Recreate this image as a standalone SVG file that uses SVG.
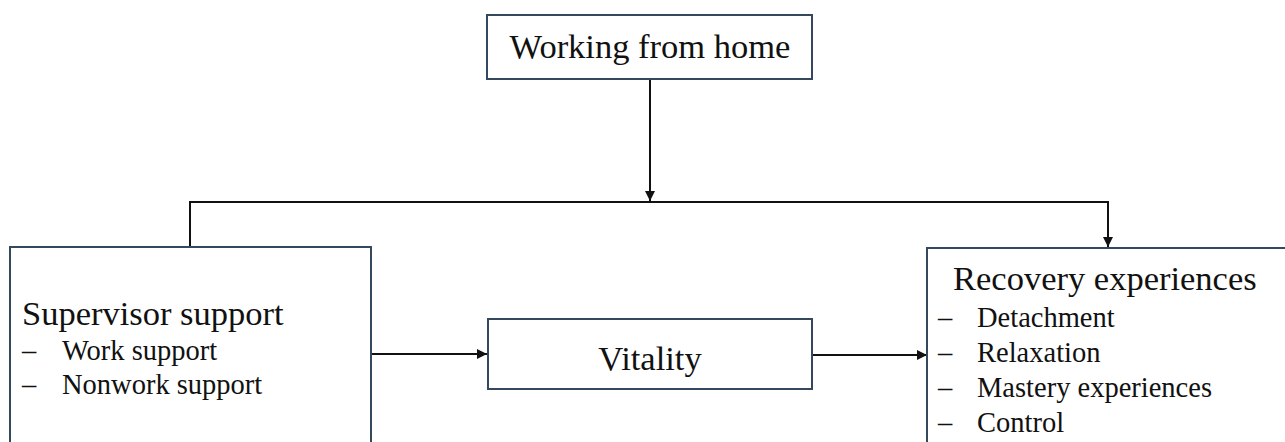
<svg xmlns="http://www.w3.org/2000/svg" width="1285" height="442" viewBox="0 0 1285 442">
<style>
.box{fill:#fff;stroke:#34495e;stroke-width:2}
.t{font-family:"Liberation Serif","Times New Roman",serif;fill:#111}
.h{font-size:34.5px}
.l{font-size:28.5px}
.c{fill:none;stroke:#111;stroke-width:2}
</style>
<defs>
<marker id="a" viewBox="0 0 10 10" refX="10" refY="5" markerWidth="5" markerHeight="5" markerUnits="strokeWidth" orient="auto">
<path d="M0,0 L10,5 L0,10 z" fill="#111"/>
</marker>
</defs>
<rect width="1285" height="442" fill="#fff"/>
<g id="connectors">
<path class="c" d="M650,79 V201" marker-end="url(#a)"/>
<path class="c" d="M190,247 V202 H1108 V247" marker-end="url(#a)"/>
<path class="c" d="M371,354 H487" marker-end="url(#a)"/>
<path class="c" d="M812,355 H927" marker-end="url(#a)"/>
</g>
<g id="working-from-home">
<rect class="box" x="487" y="15" width="325" height="64"/>
<text class="t h" x="650" y="58" text-anchor="middle">Working from home</text>
</g>
<g id="supervisor-support">
<rect class="box" x="10" y="247" width="361" height="210"/>
<text class="t h" x="22" y="325">Supervisor support</text>
<text class="t l" x="22" y="360">–</text>
<text class="t l" x="62" y="360">Work support</text>
<text class="t l" x="22" y="394">–</text>
<text class="t l" x="62" y="394">Nonwork support</text>
</g>
<g id="vitality">
<rect class="box" x="488" y="319" width="324" height="70"/>
<text class="t h" x="650" y="370" text-anchor="middle">Vitality</text>
</g>
<g id="recovery-experiences">
<rect class="box" x="927" y="248" width="370" height="210"/>
<text class="t h" x="953" y="290">Recovery experiences</text>
<text class="t l" x="938" y="327">–</text>
<text class="t l" x="977" y="327">Detachment</text>
<text class="t l" x="938" y="362">–</text>
<text class="t l" x="977" y="362">Relaxation</text>
<text class="t l" x="938" y="397">–</text>
<text class="t l" x="977" y="397">Mastery experiences</text>
<text class="t l" x="938" y="432">–</text>
<text class="t l" x="977" y="432">Control</text>
</g>
</svg>
